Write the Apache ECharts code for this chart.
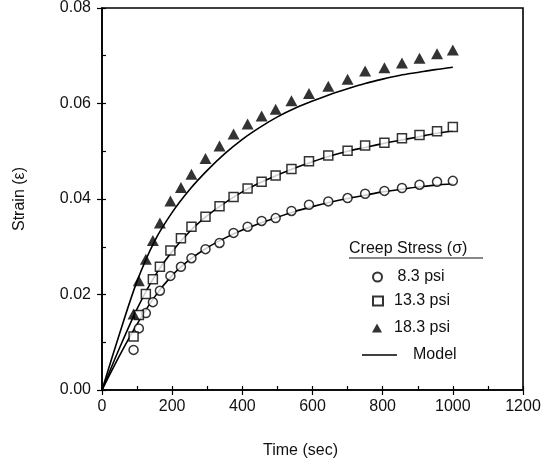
<!DOCTYPE html>
<html>
<head>
<meta charset="utf-8">
<script src="https://cdn.jsdelivr.net/npm/echarts@6/dist/echarts.min.js"></script>
<style>
html,body{margin:0;padding:0;background:#fff;}
#chart{width:555px;height:465px;}
</style>
</head>
<body>
<div id="chart"></div>
<script>
// ---- data ----
const timeSec = [90,105,125,145,165,195,225,255,295,335,375,415,455,495,540,590,645,700,750,805,855,905,955,1000];
const strain8  = [0.0084,0.0129,0.0161,0.0184,0.0208,0.0239,0.0258,0.0276,0.0295,0.0308,0.0329,0.0342,0.0354,0.0360,0.0375,0.0388,0.0395,0.0402,0.0411,0.0417,0.0423,0.0430,0.0436,0.0438];
const strain13 = [0.0112,0.0157,0.0201,0.0232,0.0258,0.0292,0.0318,0.0342,0.0363,0.0385,0.0404,0.0422,0.0436,0.0449,0.0463,0.0479,0.0491,0.0501,0.0512,0.0518,0.0527,0.0534,0.0542,0.0551];
const strain18 = [0.0159,0.0229,0.0274,0.0313,0.0350,0.0396,0.0424,0.0452,0.0485,0.0511,0.0536,0.0557,0.0574,0.0588,0.0606,0.0621,0.0636,0.0651,0.0668,0.0675,0.0685,0.0695,0.0704,0.0712];
const modelTime = [0,50,100,150,200,250,300,350,400,450,500,550,600,650,700,750,800,850,900,950,1000];
const model8  = [0,0.0072,0.0138,0.0195,0.0240,0.0273,0.0298,0.0318,0.0335,0.0349,0.0362,0.0374,0.0384,0.0393,0.0401,0.0408,0.0415,0.0420,0.0425,0.0429,0.0432];
const model13 = [0,0.0088,0.0170,0.0238,0.0290,0.0332,0.0365,0.0392,0.0415,0.0434,0.0450,0.0465,0.0478,0.0490,0.0500,0.0508,0.0516,0.0523,0.0530,0.0537,0.0543];
const model18 = [0,0.0118,0.0228,0.0312,0.0372,0.0420,0.0460,0.0495,0.0525,0.0550,0.0572,0.0590,0.0605,0.0619,0.0631,0.0642,0.0651,0.0659,0.0665,0.0671,0.0676];
const seriesNames = ['8.3 psi','13.3 psi','18.3 psi','Model'];
const xTicks = [0,200,400,600,800,1000,1200];
const yTicks = [0.00,0.02,0.04,0.06,0.08];
const legendTitle = 'Creep Stress (σ)';
const xTitle = 'Time (sec)';
const yTitle = 'Strain (ε)';

const pair = (xs, ys) => xs.map((x, i) => [x, ys[i]]);
const FONT = '"Liberation Sans", Arial, Helvetica, sans-serif';
const INK = '#000';
const TXT = '#111';

const chart = echarts.init(document.getElementById('chart'), null, {renderer: 'canvas'});

const modelSeries = (ys) => ({
  name: seriesNames[3], type: 'line', data: pair(modelTime, ys),
  symbol: 'none', smooth: 0.3,
  lineStyle: {color: INK, width: 1.6}, itemStyle: {color: INK},
  z: 2, silent: true
});

const legendText = (padLeft) => ({fontSize: 16, color: TXT, fontFamily: FONT, padding: [0, 0, 0, padLeft]});
const symLegend = (name, top, padLeft) => ({
  data: [name], orient: 'vertical', left: 367, top: top,
  itemWidth: 10, itemHeight: 9, selectedMode: false,
  textStyle: legendText(padLeft)
});

const option = {
  animation: false,
  backgroundColor: '#fff',
  textStyle: {fontFamily: FONT},
  grid: {left: 102, right: 32, top: 8, bottom: 75, show: true, borderColor: INK, borderWidth: 1.6, backgroundColor: 'transparent'},
  xAxis: [{
    type: 'value', min: xTicks[0], max: xTicks[xTicks.length-1], interval: 200,
    name: xTitle, nameLocation: 'middle', nameGap: 53,
    nameTextStyle: {fontSize: 16, color: TXT, fontFamily: FONT, padding: [0, 24, 0, 0]},
    axisLine: {show: true, onZero: false, lineStyle: {color: INK, width: 1.6}},
    axisTick: {show: true, inside: false, length: 5, lineStyle: {color: INK, width: 1.2}},
    axisLabel: {fontSize: 16, color: TXT, margin: 9, fontFamily: FONT,
      formatter: v => xTicks.includes(v) ? String(v) : ''},
    splitLine: {show: false}
  }, {
    type: 'value', min: xTicks[0], max: xTicks[xTicks.length-1], interval: 100, position: 'bottom',
    axisLine: {show: false}, axisLabel: {show: false}, splitLine: {show: false},
    axisTick: {show: true, inside: true, length: 4, lineStyle: {color: INK, width: 1.2}}
  }],
  yAxis: [{
    type: 'value', min: yTicks[0], max: yTicks[yTicks.length-1], interval: 0.02,
    name: yTitle, nameLocation: 'middle', nameGap: 74, nameRotate: 90,
    nameTextStyle: {fontSize: 16, color: TXT, fontFamily: FONT},
    axisLine: {show: true, onZero: false, lineStyle: {color: INK, width: 1.6}},
    axisTick: {show: true, inside: false, length: 5, lineStyle: {color: INK, width: 1.2}},
    axisLabel: {fontSize: 16, color: TXT, margin: 11, fontFamily: FONT,
      formatter: v => v.toFixed(2)},
    splitLine: {show: false}
  }, {
    type: 'value', min: yTicks[0], max: yTicks[yTicks.length-1], interval: 0.01, position: 'left',
    axisLine: {show: false}, axisLabel: {show: false}, splitLine: {show: false},
    axisTick: {show: true, inside: true, length: 4, lineStyle: {color: INK, width: 1.2}}
  }],
  legend: [
    symLegend(seriesNames[0], 264, 10),
    symLegend(seriesNames[1], 288, 6),
    symLegend(seriesNames[2], 315, 7),
    {data: [{name: seriesNames[3], icon: 'rect', itemStyle: {color: INK, borderWidth: 0}}],
     left: 357, top: 342, itemWidth: 35, itemHeight: 1.5, selectedMode: false,
     textStyle: legendText(11)}
  ],
  graphic: [
    {type: 'text', left: 349, top: 241, style: {text: legendTitle, fontSize: 16, fontFamily: FONT, fill: TXT}},
    {type: 'line', shape: {x1: 349, y1: 258, x2: 483, y2: 258}, style: {stroke: TXT, lineWidth: 1.2}}
  ],
  series: [
    modelSeries(model8), modelSeries(model13), modelSeries(model18),
    {name: seriesNames[0], type: 'scatter', data: pair(timeSec, strain8), symbol: 'circle', symbolSize: 9,
     itemStyle: {color: '#fff', borderColor: INK, borderWidth: 1.5}, z: 3},
    {name: seriesNames[1], type: 'scatter', data: pair(timeSec, strain13), symbol: 'rect', symbolSize: 9,
     itemStyle: {color: '#fff', borderColor: INK, borderWidth: 1.5}, z: 3},
    {name: seriesNames[2], type: 'scatter', data: pair(timeSec, strain18), symbol: 'triangle', symbolSize: [12, 11],
     itemStyle: {color: INK, borderColor: INK, borderWidth: 0}, z: 3}
  ]
};
chart.setOption(option);
</script>
</body>
</html>
